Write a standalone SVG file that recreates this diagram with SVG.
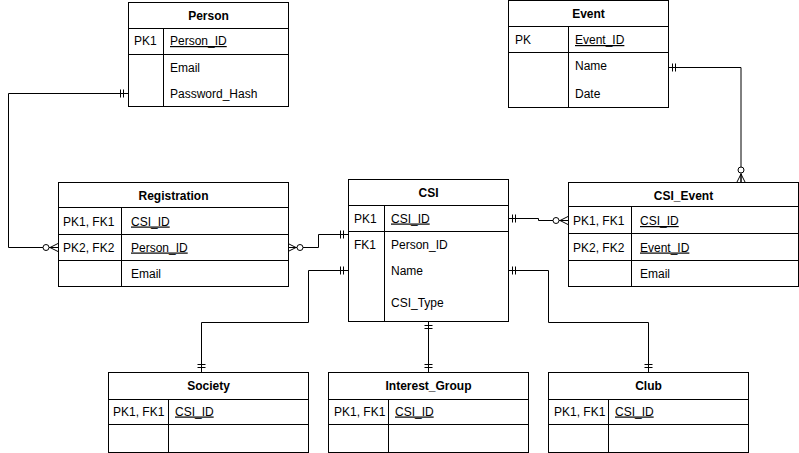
<svg xmlns="http://www.w3.org/2000/svg" width="799" height="453" viewBox="0 0 799 453">
  <style>
    .box { fill: #ffffff; stroke: #000000; stroke-width: 1; }
    .sep { fill: none; stroke: #000000; stroke-width: 1; }
    .t { font-family: "Liberation Sans", Arial, Helvetica, sans-serif; font-size: 12px; fill: #000000; }
    .h { font-weight: bold; text-anchor: middle; }
    .u { text-decoration: underline; }
    .edge { fill: none; stroke: #000000; stroke-width: 1; }
    .mk { fill: none; stroke: #000000; stroke-width: 1; }
    .ring { fill: #ffffff; stroke: #000000; stroke-width: 1; }
  </style>
  <defs>
    <!-- exactly one: two bars just before the entity -->
    <marker id="mandOne" markerUnits="userSpaceOnUse" markerWidth="20" markerHeight="20" refX="0" refY="0" orient="auto-start-reverse" overflow="visible">
      <path class="mk" d="M-4.5,-4 V4 M-7.5,-4 V4"/>
    </marker>
    <!-- zero or many: ring plus crow's foot -->
    <marker id="zeroMany" markerUnits="userSpaceOnUse" markerWidth="20" markerHeight="20" refX="0" refY="0" orient="auto-start-reverse" overflow="visible">
      <path class="mk" d="M-8,0 L0,-4 M-8,0 L0,4 M-8,0 L0,0"/>
      <circle class="ring" cx="-12" cy="0" r="3"/>
    </marker>
  </defs>

  <rect x="0" y="0" width="799" height="453" fill="#ffffff"/>

  <!-- relationships -->
  <g id="connectors">
    <path class="edge" d="M128,93.5 H8.5 V247.5 H58" marker-start="url(#mandOne)" marker-end="url(#zeroMany)"/>
    <path class="edge" d="M288,247.5 H318.5 V234.5 H348" marker-start="url(#zeroMany)" marker-end="url(#mandOne)"/>
    <path class="edge" d="M508,218.5 H538.5 V220.5 H568" marker-start="url(#mandOne)" marker-end="url(#zeroMany)"/>
    <path class="edge" d="M668,67.5 H741 V182" marker-start="url(#mandOne)" marker-end="url(#zeroMany)"/>
    <path class="edge" d="M348,270.5 H308.5 V322.5 H201.5 V372" marker-start="url(#mandOne)" marker-end="url(#mandOne)"/>
    <path class="edge" d="M428.5,321 V372" marker-start="url(#mandOne)" marker-end="url(#mandOne)"/>
    <path class="edge" d="M508,270.5 H548.5 V322.5 H648.5 V372" marker-start="url(#mandOne)" marker-end="url(#mandOne)"/>
  </g>

  <!-- entities -->
  <g id="person">
    <rect class="box" x="128.5" y="2.5" width="160" height="104"/>
    <path class="sep" d="M128.5,28.5 H288.5 M128.5,54.5 H288.5 M163.5,28.5 V106.5"/>
    <text class="t h" x="208.5" y="19.5">Person</text>
    <text class="t" x="134" y="45">PK1</text>
    <text class="t u" x="170" y="45">Person_ID</text>
    <text class="t" x="170" y="71.5">Email</text>
    <text class="t" x="170" y="97.5">Password_Hash</text>
  </g>

  <g id="event">
    <rect class="box" x="508.5" y="0.5" width="160" height="107"/>
    <path class="sep" d="M508.5,26.5 H668.5 M508.5,52.5 H668.5 M568.5,26.5 V107.5"/>
    <text class="t h" x="588.5" y="18">Event</text>
    <text class="t" x="515" y="44">PK</text>
    <text class="t u" x="575" y="44">Event_ID</text>
    <text class="t" x="575" y="70">Name</text>
    <text class="t" x="575" y="97.5">Date</text>
  </g>

  <g id="registration">
    <rect class="box" x="58.5" y="182.5" width="230" height="104"/>
    <path class="sep" d="M58.5,207.5 H288.5 M58.5,234.5 H288.5 M58.5,260.5 H288.5 M121.5,207.5 V286.5"/>
    <text class="t h" x="173.5" y="199.5">Registration</text>
    <text class="t" x="63" y="225.5">PK1, FK1</text>
    <text class="t u" x="131" y="225.5">CSI_ID</text>
    <text class="t" x="63" y="251.5">PK2, FK2</text>
    <text class="t u" x="131" y="251.5">Person_ID</text>
    <text class="t" x="131" y="277.5">Email</text>
  </g>

  <g id="csi">
    <rect class="box" x="348.5" y="179.5" width="160" height="142"/>
    <path class="sep" d="M348.5,205.5 H508.5 M348.5,231.5 H508.5 M384.5,205.5 V321.5"/>
    <text class="t h" x="428.5" y="197">CSI</text>
    <text class="t" x="354" y="222.5">PK1</text>
    <text class="t u" x="391" y="222.5">CSI_ID</text>
    <text class="t" x="354" y="249">FK1</text>
    <text class="t" x="391" y="249">Person_ID</text>
    <text class="t" x="391" y="274.5">Name</text>
    <text class="t" x="391" y="306.5">CSI_Type</text>
  </g>

  <g id="csi_event">
    <rect class="box" x="568.5" y="182.5" width="230" height="104"/>
    <path class="sep" d="M568.5,206.5 H798.5 M568.5,233.5 H798.5 M568.5,260.5 H798.5 M631.5,206.5 V286.5"/>
    <text class="t h" x="683.5" y="199.5">CSI_Event</text>
    <text class="t" x="573" y="225">PK1, FK1</text>
    <text class="t u" x="640" y="225">CSI_ID</text>
    <text class="t" x="573" y="251.5">PK2, FK2</text>
    <text class="t u" x="640" y="251.5">Event_ID</text>
    <text class="t" x="640" y="278">Email</text>
  </g>

  <g id="society">
    <rect class="box" x="108.5" y="372.5" width="200" height="80"/>
    <path class="sep" d="M108.5,399.5 H308.5 M108.5,424.5 H308.5 M168.5,399.5 V452.5"/>
    <text class="t h" x="208.5" y="390">Society</text>
    <text class="t" x="113" y="415.5">PK1, FK1</text>
    <text class="t u" x="175" y="415.5">CSI_ID</text>
  </g>

  <g id="interest_group">
    <rect class="box" x="328.5" y="372.5" width="200" height="80"/>
    <path class="sep" d="M328.5,399.5 H528.5 M328.5,424.5 H528.5 M388.5,399.5 V452.5"/>
    <text class="t h" x="428.5" y="390">Interest_Group</text>
    <text class="t" x="334" y="415.5">PK1, FK1</text>
    <text class="t u" x="395" y="415.5">CSI_ID</text>
  </g>

  <g id="club">
    <rect class="box" x="548.5" y="372.5" width="200" height="80"/>
    <path class="sep" d="M548.5,399.5 H748.5 M548.5,424.5 H748.5 M608.5,399.5 V452.5"/>
    <text class="t h" x="648.5" y="390">Club</text>
    <text class="t" x="554" y="415.5">PK1, FK1</text>
    <text class="t u" x="615" y="415.5">CSI_ID</text>
  </g>
</svg>
